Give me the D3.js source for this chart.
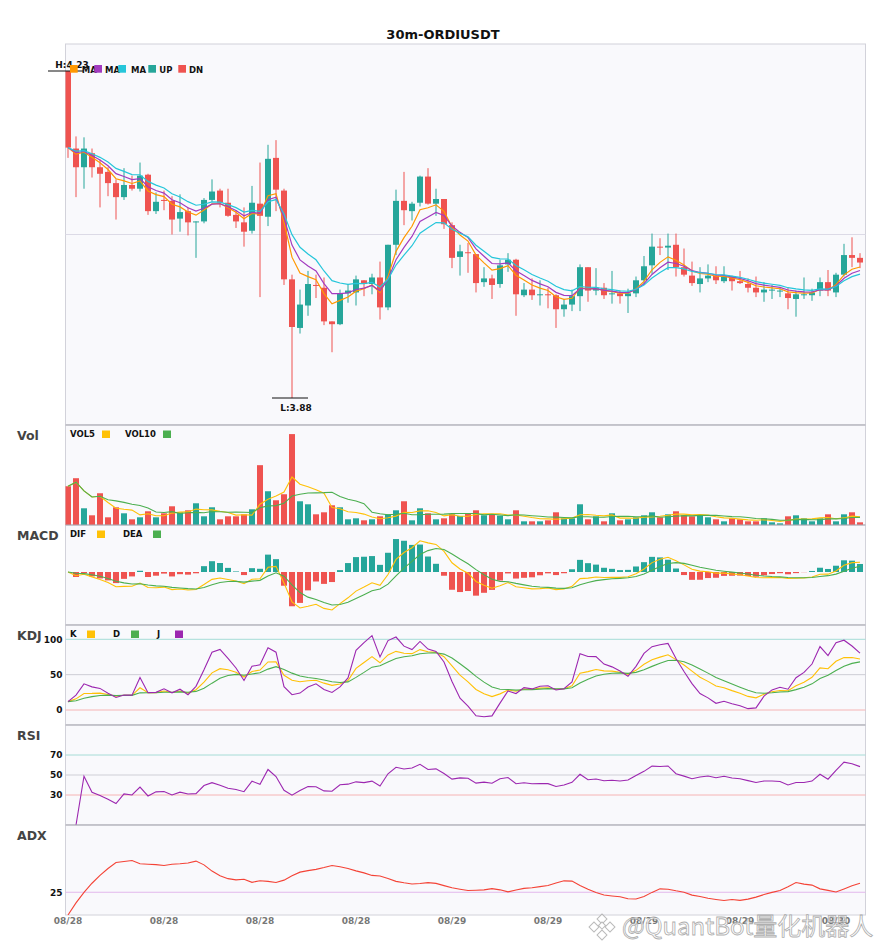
<!DOCTYPE html>
<html lang="en">
<head>
<meta charset="utf-8">
<style>
  body { margin: 0; background: #fff; }
</style>
</head>
<body>
<script src="https://d3js.org/d3.v7.min.js"></script>
<script>
var width = 885, height = 950;
var title = '30m-ORDIUSDT';

// 30m candles
var open = [4.230, 4.147, 4.127, 4.142, 4.127, 4.122, 4.110, 4.095, 4.108, 4.104,
            4.119, 4.080, 4.092, 4.091, 4.072, 4.080, 4.068, 4.069, 4.092, 4.102,
            4.089, 4.076, 4.068, 4.059, 4.088, 4.074, 4.137, 4.102, 4.007, 3.955,
            3.979, 4.001, 3.998, 3.962, 3.959, 3.992, 3.993, 4.006, 4.002, 4.009,
            3.977, 4.044, 4.091, 4.080, 4.089, 4.117, 4.088, 4.093, 4.065, 4.031,
            4.036, 4.034, 4.004, 4.008, 4.002, 4.023, 4.028, 3.990, 3.996, 3.990,
            3.991, 3.990, 3.975, 3.980, 3.989, 4.020, 3.995, 3.998, 3.991, 3.992,
            3.989, 3.992, 4.006, 4.022, 4.042, 4.041, 4.044, 4.020, 4.011, 4.002,
            4.008, 4.011, 4.005, 4.010, 4.005, 4.002, 3.998, 3.993, 3.995, 3.994,
            3.992, 3.986, 3.990, 3.990, 3.995, 4.004, 3.993, 4.012, 4.033, 4.030];
var high = [4.230, 4.160, 4.159, 4.147, 4.135, 4.127, 4.114, 4.126, 4.118, 4.132,
            4.120, 4.100, 4.102, 4.096, 4.098, 4.084, 4.069, 4.094, 4.114, 4.104,
            4.104, 4.081, 4.084, 4.107, 4.132, 4.151, 4.156, 4.104, 4.012, 3.996,
            4.016, 4.012, 4.009, 3.962, 3.996, 4.002, 4.011, 4.006, 4.013, 4.026,
            4.044, 4.103, 4.122, 4.090, 4.118, 4.126, 4.104, 4.093, 4.068, 4.044,
            4.046, 4.034, 4.020, 4.012, 4.028, 4.035, 4.029, 4.003, 4.008, 4.006,
            3.998, 3.991, 3.986, 3.996, 4.023, 4.020, 4.019, 4.003, 4.016, 3.995,
            3.997, 4.010, 4.032, 4.056, 4.051, 4.056, 4.056, 4.040, 4.026, 4.020,
            4.023, 4.021, 4.021, 4.011, 4.016, 4.008, 4.010, 4.004, 4.001, 3.998,
            3.998, 3.995, 4.009, 3.997, 4.009, 4.017, 4.014, 4.045, 4.052, 4.035];
var low = [4.137, 4.095, 4.104, 4.116, 4.084, 4.096, 4.071, 4.092, 4.102, 4.101,
           4.076, 4.077, 4.081, 4.055, 4.058, 4.054, 4.030, 4.067, 4.090, 4.084,
           4.074, 4.062, 4.042, 4.056, 3.988, 4.064, 4.080, 4.001, 3.880, 3.949,
           3.968, 3.987, 3.958, 3.929, 3.958, 3.982, 3.979, 3.989, 3.991, 3.964,
           3.974, 4.033, 4.065, 4.070, 4.085, 4.087, 4.075, 4.061, 4.019, 4.011,
           4.014, 3.993, 3.999, 3.986, 3.998, 4.015, 3.968, 3.988, 3.985, 3.979,
           3.976, 3.955, 3.967, 3.973, 3.973, 3.983, 3.990, 3.986, 3.981, 3.981,
           3.971, 3.988, 4.001, 4.013, 4.033, 4.017, 4.010, 4.010, 4.000, 3.993,
           4.004, 4.002, 4.003, 3.995, 4.002, 3.993, 3.988, 3.983, 3.986, 3.988,
           3.975, 3.967, 3.986, 3.984, 3.989, 3.989, 3.988, 4.010, 4.020, 4.019];
var close = [4.148, 4.127, 4.147, 4.127, 4.120, 4.110, 4.095, 4.108, 4.104, 4.118,
             4.080, 4.090, 4.091, 4.071, 4.079, 4.068, 4.069, 4.092, 4.101, 4.089,
             4.075, 4.069, 4.058, 4.089, 4.075, 4.136, 4.103, 4.007, 3.956, 3.980,
             4.002, 4.000, 3.962, 3.959, 3.992, 3.995, 4.007, 4.002, 4.009, 3.977,
             4.044, 4.091, 4.081, 4.088, 4.117, 4.088, 4.093, 4.066, 4.030, 4.037,
             4.035, 4.003, 4.008, 4.001, 4.022, 4.028, 3.991, 3.996, 3.990, 3.991,
             3.990, 3.975, 3.980, 3.989, 4.020, 3.995, 3.998, 3.990, 3.992, 3.989,
             3.992, 4.006, 4.021, 4.042, 4.041, 4.043, 4.020, 4.012, 4.003, 4.008,
             4.011, 4.006, 4.010, 4.005, 4.003, 3.998, 3.993, 3.996, 3.996, 3.995,
             3.987, 3.991, 3.991, 3.993, 4.004, 3.995, 4.012, 4.033, 4.030, 4.025];
// volume, thousands
var volume = [232, 280, 100, 58, 190, 46, 106, 70, 34, 46,
              82, 46, 70, 112, 76, 88, 130, 52, 106, 34,
              52, 52, 64, 94, 358, 202, 148, 184, 544, 142,
              124, 64, 76, 118, 106, 34, 40, 28, 34, 52,
              64, 88, 142, 28, 100, 70, 34, 40, 64, 54,
              70, 88, 58, 64, 56, 34, 88, 22, 22, 22,
              28, 76, 40, 40, 124, 34, 52, 22, 70, 28,
              34, 46, 58, 76, 46, 64, 82, 58, 52, 58,
              46, 34, 22, 40, 34, 22, 22, 40, 16, 10,
              52, 58, 40, 22, 40, 64, 22, 64, 76, 16];

var xTickLabels = ['08/28', '08/28', '08/28', '08/28', '08/29', '08/29', '08/29', '08/29', '08/30'];
var xTickEvery = 12;

var legendMain = ['MA5', 'MA7', 'MA10', 'UP', 'DN'];
var maPeriods = [5, 7, 10];
var macdPeriods = [6, 13, 5];

var kdjTicks = [0, 50, 100];
var rsiTicks = [30, 50, 70];
var adxTicks = [25];

// ---------- styles / layout ----------
var UP = '#26a69a', DN = '#ef5350';
var maColors = ['#ff9800', '#a33bbf', '#26c6da'];
var YEL = '#ffc107', GRN = '#4caf50', PUR = '#9c27b0';
var L = 65.5, R = 865.5;
var panels = {
    main: [44, 425], vol: [425, 525], macd: [525, 625],
    kdj: [625, 725], rsi: [725, 825], adx: [825, 915]
};
var n = close.length;

// ---------- indicators ----------
function sma(arr, p) {
    return arr.map(function (d, i) { return d3.mean(arr.slice(Math.max(0, i - p + 1), i + 1)); });
}
function ema(arr, p) {
    var k = 2 / (p + 1), out = [];
    arr.forEach(function (v, i) { out.push(i ? out[i - 1] + k * (v - out[i - 1]) : v); });
    return out;
}

var mas = maPeriods.map(function (p) { return ema(close, p); });
var vol5 = sma(volume, 5), vol10 = sma(volume, 10);

var eFast = ema(close, macdPeriods[0]), eSlow = ema(close, macdPeriods[1]);
var dif = eFast.map(function (d, i) { return d - eSlow[i]; });
var dea = ema(dif, macdPeriods[2]);
var hist = dif.map(function (d, i) { return 2 * (d - dea[i]); });

var K = [], D = [], J = [];
close.forEach(function (c, i) {
    var s = Math.max(0, i - 8);
    var ll = d3.min(low.slice(s, i + 1)), hh = d3.max(high.slice(s, i + 1));
    var rsv = hh === ll ? 50 : (c - ll) / (hh - ll) * 100;
    var k = i ? (2 * K[i - 1] + rsv) / 3 : rsv;
    var d = i ? (2 * D[i - 1] + k) / 3 : rsv;
    K.push(k); D.push(d); J.push(3 * k - 2 * d);
});

var rsi = [null];
(function () {
    var ag = 0, al = 0, p = 14;
    for (var i = 1; i < n; i++) {
        var ch = close[i] - close[i - 1];
        var g = Math.max(ch, 0), l = Math.max(-ch, 0);
        if (i <= p) { ag = (ag * (i - 1) + g) / i; al = (al * (i - 1) + l) / i; }
        else { ag = (ag * (p - 1) + g) / p; al = (al * (p - 1) + l) / p; }
        rsi.push(al === 0 ? 100 : 100 - 100 / (1 + ag / al));
    }
})();

var tr = [], pdm = [], mdm = [];
close.forEach(function (c, i) {
    if (!i) { tr.push(high[0] - low[0]); pdm.push(0); mdm.push(0); return; }
    var up = high[i] - high[i - 1], dn = low[i - 1] - low[i];
    tr.push(Math.max(high[i] - low[i], Math.abs(high[i] - close[i - 1]), Math.abs(low[i] - close[i - 1])));
    pdm.push(up > dn && up > 0 ? up : 0);
    mdm.push(dn > up && dn > 0 ? dn : 0);
});
var sTR = ema(tr, 14), sP = ema(pdm, 14), sM = ema(mdm, 14);
var dx = sTR.map(function (t, i) {
    var pdi = sP[i] / t * 100, mdi = sM[i] / t * 100;
    return pdi + mdi === 0 ? 0 : Math.abs(pdi - mdi) / (pdi + mdi) * 100;
});
var adx = ema(dx, 14);

// ---------- svg ----------
var svg = d3.select('body').append('svg')
    .attr('width', width).attr('height', height)
    .style('font-family', 'DejaVu Sans, sans-serif');
var defs = svg.append('defs');

svg.append('text').attr('x', 443).attr('y', 39).attr('text-anchor', 'middle')
    .attr('font-size', 13).attr('font-weight', 'bold').attr('fill', '#111').text(title);

Object.keys(panels).forEach(function (k) {
    var p = panels[k];
    svg.append('rect').attr('x', L).attr('y', p[0]).attr('width', R - L).attr('height', p[1] - p[0])
        .attr('fill', '#f9f9fc').attr('stroke', '#d2d2da');
    defs.append('clipPath').attr('id', 'clip-' + k)
        .append('rect').attr('x', L).attr('y', p[0]).attr('width', R - L).attr('height', p[1] - p[0]);
});

var x = d3.scaleBand().domain(d3.range(n)).range([64, 864]).paddingInner(0.25).paddingOuter(0.125);
var bw = x.bandwidth();
function cx(i) { return x(i) + bw / 2; }

// ---------- main (candles) ----------
var lo = d3.min(low), hi = d3.max(high), pad = (hi - lo) * 27 / 327;
var y = d3.scaleLinear().domain([lo - pad, hi + pad]).range([panels.main[1], panels.main[0]]);

svg.append('line').attr('x1', L).attr('x2', R)
    .attr('y1', (panels.main[0] + panels.main[1]) / 2).attr('y2', (panels.main[0] + panels.main[1]) / 2)
    .attr('stroke', '#dcdae6');

var gMain = svg.append('g').attr('clip-path', 'url(#clip-main)');
var candles = gMain.selectAll('g.candle').data(d3.range(n)).join('g')
    .attr('fill', function (i) { return close[i] >= open[i] ? UP : DN; })
    .attr('stroke', function (i) { return close[i] >= open[i] ? UP : DN; });
candles.append('line')
    .attr('x1', cx).attr('x2', cx)
    .attr('y1', function (i) { return y(high[i]); })
    .attr('y2', function (i) { return y(low[i]); });
candles.append('rect').attr('stroke', 'none')
    .attr('x', function (i) { return x(i); }).attr('width', bw)
    .attr('y', function (i) { return y(Math.max(open[i], close[i])); })
    .attr('height', function (i) { return Math.max(1, Math.abs(y(open[i]) - y(close[i]))); });

mas.forEach(function (m, k) {
    gMain.append('path').datum(m)
        .attr('fill', 'none').attr('stroke', maColors[k]).attr('stroke-width', 1.2)
        .attr('d', d3.line().x(function (d, i) { return cx(i); }).y(function (d) { return y(d); }));
});

// high / low markers
var iHi = high.indexOf(hi), iLo = low.indexOf(lo);
svg.append('line').attr('x1', cx(iHi) - 20).attr('x2', cx(iHi) + 15)
    .attr('y1', y(hi)).attr('y2', y(hi)).attr('stroke', '#111');
svg.append('text').attr('x', cx(iHi) + 4).attr('y', y(hi) - 3).attr('text-anchor', 'middle')
    .attr('font-size', 9).attr('font-weight', 'bold').attr('fill', '#111').text('H:' + hi.toFixed(2));
svg.append('line').attr('x1', cx(iLo) - 20).attr('x2', cx(iLo) + 16)
    .attr('y1', y(lo)).attr('y2', y(lo)).attr('stroke', '#111');
svg.append('text').attr('x', cx(iLo) + 4).attr('y', y(lo) + 13).attr('text-anchor', 'middle')
    .attr('font-size', 9).attr('font-weight', 'bold').attr('fill', '#111').text('L:' + lo.toFixed(2));

// legend: labels are cut to a fixed slot, later swatches sit on top
var legIcon = [70, 94.3, 118.3, 148.3, 178.3];
var legText = [81.7, 105, 131, 159.3, 189];
var legC = maColors.concat([UP, DN]);
legendMain.forEach(function (name, k) {
    defs.append('clipPath').attr('id', 'leg-' + k).append('rect')
        .attr('x', legText[k] - 1).attr('y', 60).attr('width', 16.5).attr('height', 16);
    svg.append('rect').attr('x', legIcon[k]).attr('y', 65).attr('width', 7.7).attr('height', 7.7).attr('fill', legC[k]);
    svg.append('text').attr('x', legText[k]).attr('y', 72.5).attr('clip-path', 'url(#leg-' + k + ')')
        .attr('font-size', 8.5).attr('font-weight', 'bold').attr('fill', '#111').text(name);
});

// small legend helper for indicator panels: text then square
function legend(items, top) {
    items.forEach(function (it) {
        svg.append('text').attr('x', it[1]).attr('y', top + 12)
            .attr('font-size', 8.5).attr('font-weight', 'bold').attr('fill', '#111').text(it[0]);
        svg.append('rect').attr('x', it[2]).attr('y', top + 5.5).attr('width', 8).attr('height', 7.5).attr('fill', it[3]);
    });
}
function panelTitle(t, top) {
    svg.append('text').attr('x', 17).attr('y', top + 14.5)
        .attr('font-size', 12.5).attr('font-weight', 'bold').attr('fill', '#444').text(t);
}

// ---------- volume ----------
var yV = d3.scaleLinear().domain([0, d3.max(volume) * 1.1]).range([panels.vol[1], panels.vol[0]]);
var gVol = svg.append('g').attr('clip-path', 'url(#clip-vol)');
gVol.selectAll('rect').data(volume).join('rect')
    .attr('x', function (d, i) { return x(i); }).attr('width', bw)
    .attr('y', function (d) { return yV(d); })
    .attr('height', function (d) { return yV(0) - yV(d); })
    .attr('fill', function (d, i) { return close[i] >= open[i] ? UP : DN; });
[[vol5, YEL], [vol10, GRN]].forEach(function (s) {
    gVol.append('path').datum(s[0]).attr('fill', 'none').attr('stroke', s[1]).attr('stroke-width', 1.1)
        .attr('d', d3.line().x(function (d, i) { return cx(i); }).y(function (d) { return yV(d); }));
});
panelTitle('Vol', panels.vol[0]);
legend([['VOL5', 70, 102, YEL], ['VOL10', 125, 163, GRN]], panels.vol[0]);

// ---------- MACD ----------
var mMin = d3.min(dif.concat(dea, hist));
var yM = d3.scaleLinear().domain([mMin, 0]).range([610, 572]);
var gM = svg.append('g').attr('clip-path', 'url(#clip-macd)');
gM.selectAll('rect').data(hist).join('rect')
    .attr('x', function (d, i) { return x(i); }).attr('width', bw)
    .attr('y', function (d) { return Math.min(yM(0), yM(d)); })
    .attr('height', function (d) { return Math.abs(yM(d) - yM(0)); })
    .attr('fill', function (d) { return d >= 0 ? UP : DN; });
[[dif, YEL], [dea, GRN]].forEach(function (s) {
    gM.append('path').datum(s[0]).attr('fill', 'none').attr('stroke', s[1]).attr('stroke-width', 1.1)
        .attr('d', d3.line().x(function (d, i) { return cx(i); }).y(function (d) { return yM(d); }));
});
panelTitle('MACD', panels.macd[0]);
legend([['DIF', 70, 97, YEL], ['DEA', 123, 153, GRN]], panels.macd[0]);

// ---------- oscillator panels ----------
function levels(scale, ticks, colors) {
    ticks.forEach(function (t, k) {
        svg.append('line').attr('x1', L).attr('x2', R).attr('y1', scale(t)).attr('y2', scale(t))
            .attr('stroke', colors[k]).attr('stroke-width', 1);
    });
    var ax = svg.append('g').attr('transform', 'translate(' + L + ',0)')
        .call(d3.axisLeft(scale).tickValues(ticks).tickSize(0).tickPadding(3));
    ax.select('.domain').remove();
    ax.selectAll('text').attr('font-size', 9).attr('font-weight', 'bold').attr('fill', '#111')
        .attr('font-family', 'DejaVu Sans, sans-serif');
}
function series(g, data, scale, color) {
    g.append('path').datum(data).attr('fill', 'none').attr('stroke', color).attr('stroke-width', 1.1)
        .attr('d', d3.line().defined(function (d) { return d !== null; })
            .x(function (d, i) { return cx(i); }).y(function (d) { return scale(d); }));
}

var yK = d3.scaleLinear().domain([0, 100]).range([710, 639.3]);
levels(yK, kdjTicks, ['#f6b4b4', '#cfcfd6', '#a6dcd6']);
var gK = svg.append('g').attr('clip-path', 'url(#clip-kdj)');
series(gK, K, yK, YEL); series(gK, D, yK, GRN); series(gK, J, yK, PUR);
panelTitle('KDJ', panels.kdj[0]);
legend([['K', 70, 87, YEL], ['D', 113, 131, GRN], ['J', 157, 175, PUR]], panels.kdj[0]);

var yR = d3.scaleLinear().domain([0, 100]).range([825, 725]);
levels(yR, rsiTicks, ['#f6b4b4', '#cfcfd6', '#a6dcd6']);
var gR = svg.append('g').attr('clip-path', 'url(#clip-rsi)');
series(gR, rsi, yR, PUR);
panelTitle('RSI', panels.rsi[0]);

var yA = d3.scaleLinear().domain([0, 100]).range([915, 824]);
levels(yA, adxTicks, ['#e2b8ec']);
var gA = svg.append('g').attr('clip-path', 'url(#clip-adx)');
series(gA, adx, yA, '#f44336');
panelTitle('ADX', panels.adx[0]);

// panel dividers
[425, 525, 625, 725, 825].forEach(function (v) {
    svg.append('line').attr('x1', L).attr('x2', R).attr('y1', v).attr('y2', v).attr('stroke', '#aaaab2');
});

// ---------- x axis ----------
var xa = svg.append('g').attr('transform', 'translate(0,' + panels.adx[1] + ')')
    .call(d3.axisBottom(x).tickValues(d3.range(0, n, xTickEvery))
        .tickFormat(function (d, k) { return xTickLabels[k]; }).tickSize(0).tickPadding(3));
xa.select('.domain').remove();
xa.selectAll('text').attr('font-size', 9).attr('font-weight', 'bold').attr('fill', '#777')
    .attr('font-family', 'DejaVu Sans, sans-serif');

// ---------- watermark ----------
var wm = svg.append('g').attr('opacity', 0.8);
[[602, 919], [594, 927], [610, 927], [602, 935], [602, 927]].forEach(function (p, k) {
    wm.append('rect').attr('x', -3.5).attr('y', -3.5).attr('width', k === 4 ? 5 : 7).attr('height', k === 4 ? 5 : 7)
        .attr('transform', 'translate(' + p[0] + ',' + p[1] + ') rotate(45)')
        .attr('fill', '#fff').attr('stroke', '#aaa').attr('stroke-width', 1);
});
wm.append('text').attr('x', 622).attr('y', 935)
    .attr('font-family', 'Noto Sans CJK SC, Noto Sans, sans-serif').attr('font-size', 24)
    .attr('fill', '#fff').attr('stroke', '#9a9a9a').attr('stroke-width', 0.8)
    .text('@QuantBot量化机器人');
</script>
</body>
</html>
